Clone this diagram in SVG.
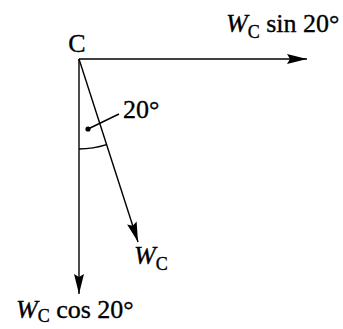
<svg xmlns="http://www.w3.org/2000/svg" width="343" height="329" viewBox="0 0 343 329">
<defs>
<style>
text{font-family:"Liberation Serif","Times New Roman",serif;font-size:26px;fill:#000;stroke:#000;stroke-width:0.35}
.it{font-style:italic}
.sub{font-size:18px}
.ln{stroke:#000;stroke-width:1.4;fill:none}
</style>
<marker id="ah" markerUnits="userSpaceOnUse" markerWidth="22" markerHeight="12" refX="20" refY="5" orient="auto" viewBox="0 0 22 10">
<path d="M0,0 L20,5 L0,10 L3,5 z" fill="#000"/>
</marker>
</defs>
<rect width="343" height="329" fill="#fff"/>
<g id="connectors">
<line class="ln" x1="79" y1="59" x2="307" y2="59" marker-end="url(#ah)"/>
<line class="ln" x1="79" y1="59" x2="79" y2="294" marker-end="url(#ah)"/>
<line class="ln" x1="79" y1="59" x2="138" y2="242" marker-end="url(#ah)"/>
<path class="ln" d="M79,149 A90,90 0 0 0 106.5,144.7"/>
<line class="ln" x1="88" y1="129" x2="119" y2="114"/>
<circle cx="88" cy="129" r="2.6" fill="#000"/>
</g>
<g id="node-C"><text x="77" y="52" text-anchor="middle">C</text></g>
<g id="label-sin"><text x="226" y="32"><tspan class="it">W</tspan><tspan class="sub" dy="6">C</tspan><tspan dy="-6"> sin 20°</tspan></text></g>
<g id="label-angle"><text x="123" y="118">20°</text></g>
<g id="label-W"><text x="134" y="264"><tspan class="it">W</tspan><tspan class="sub" dy="6">C</tspan></text></g>
<g id="label-cos"><text x="16" y="318"><tspan class="it">W</tspan><tspan class="sub" dy="4">C</tspan><tspan dy="-4"> cos 20°</tspan></text></g>
</svg>
